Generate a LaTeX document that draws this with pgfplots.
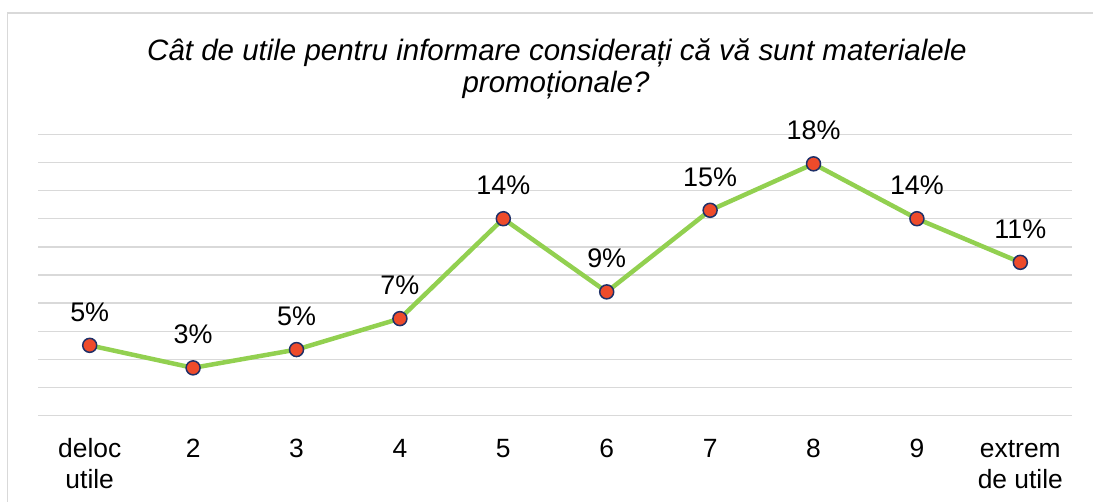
\documentclass[border=0pt]{standalone}
\usepackage{fontspec}
\setmainfont{Liberation Sans}
\usepackage{pgfplots}
\pgfplotsset{compat=1.18}
\definecolor{gridc}{HTML}{D9D9D9}
\definecolor{linec}{HTML}{92D050}
\definecolor{markf}{HTML}{EE4B2B}
\definecolor{marke}{HTML}{1F3068}
\pgfplotstableread{
x y lab
0 5.0 5
1 3.4 3
2 4.7 5
3 6.9 7
4 14.0 14
5 8.8 9
6 14.6 15
7 17.9 18
8 14.0 14
9 10.9 11
}\datatab
\begin{document}
\begin{tikzpicture}
\path[use as bounding box] (0bp,0bp) rectangle (1093bp,502bp);
\draw[gridc, line width=1.3bp] (7.5bp,0bp) -- (7.5bp,489bp) -- (1093bp,489bp);
\node[anchor=base, font=\fontsize{29.6}{33}\selectfont\itshape, inner sep=0pt] at (557bp,441bp) {Cât de utile pentru informare considerați că vă sunt materialele};
\node[anchor=base, font=\fontsize{29.6}{33}\selectfont\itshape, inner sep=0pt] at (556bp,409bp) {promoționale?};
\begin{axis}[
  at={(38bp,86.3bp)}, anchor=south west,
  width=1034bp, height=281.4bp, scale only axis,
  xmin=-0.5, xmax=9.5, ymin=0, ymax=20,
  ytick={0,2,...,20}, yticklabels={},
  ymajorgrids, grid style={gridc, line width=1.3bp},
  axis line style={draw=none},
  major tick length=0pt,
  xtick={0,...,9},
  xticklabels={{\strut deloc\\utile},{\strut 2},{\strut 3},{\strut 4},{\strut 5},{\strut 6},{\strut 7},{\strut 8},{\strut 9},{\strut extrem\\de utile}},
  xticklabel style={font=\fontsize{26.5}{30.5}\selectfont, align=center, inner sep=0pt, yshift=-20.5bp},
  clip=false,
]
\addplot[linec, line width=4.5bp, mark=*, mark size=7bp,
  mark options={fill=markf, draw=marke, line width=1.5bp},
  point meta=explicit symbolic,
  nodes near coords={\pgfplotspointmeta\%},
  every node near coord/.append style={anchor=base, yshift=24bp, font=\fontsize{27}{30}\selectfont, text=black, inner sep=0pt},
] table[x=x, y=y, meta=lab] {\datatab};
\end{axis}
\end{tikzpicture}
\end{document}
